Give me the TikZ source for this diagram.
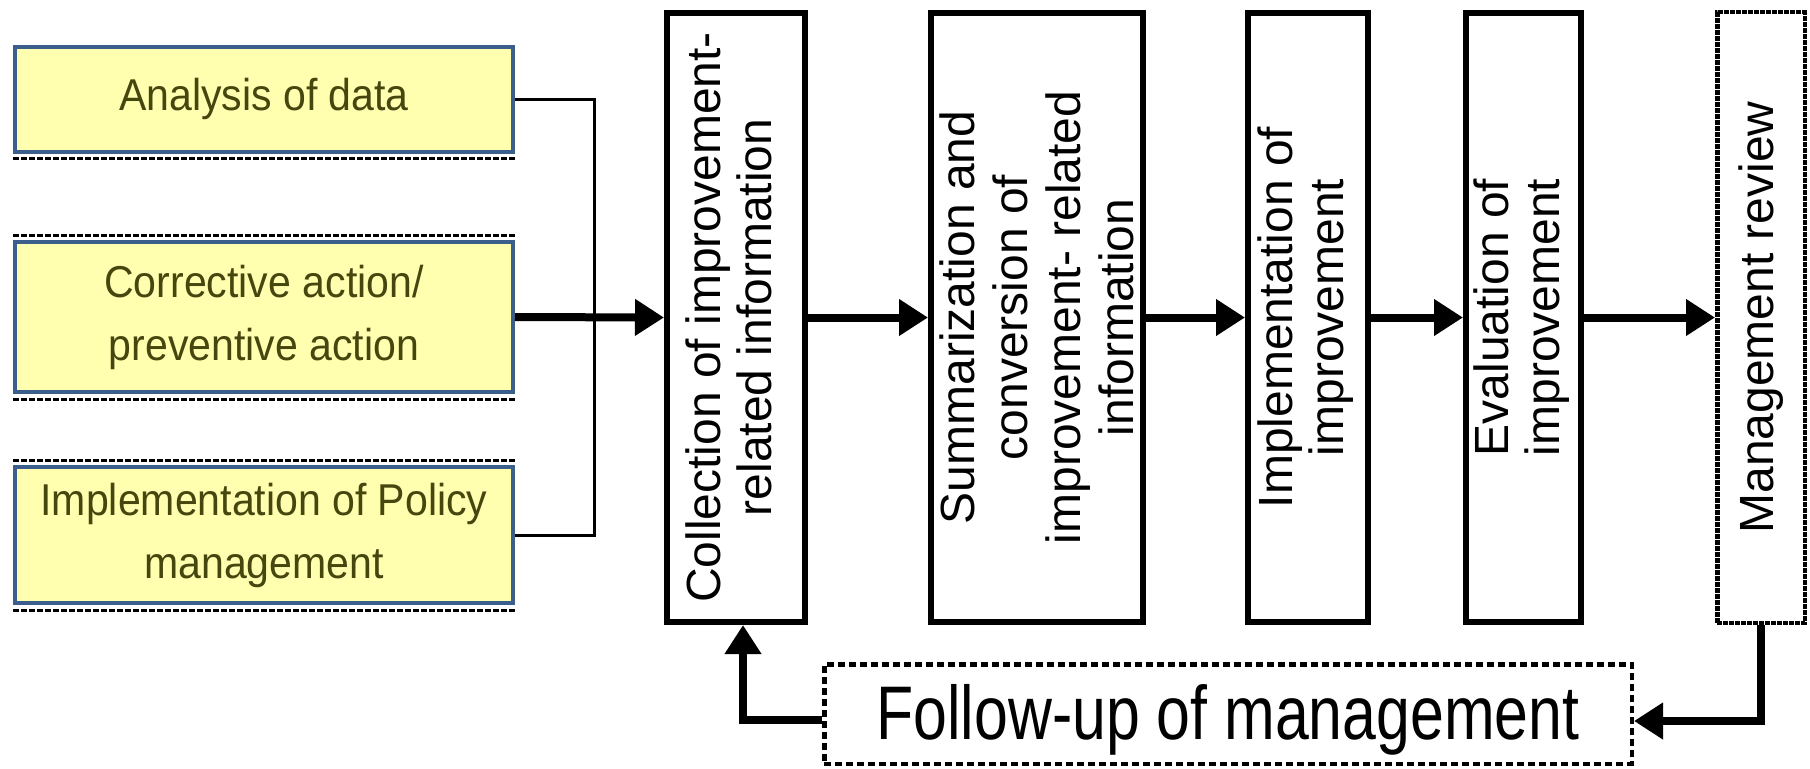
\documentclass[tikz,border=0pt]{standalone}
\usepackage{fontspec}
\setmainfont{Liberation Sans}
\newfontfamily\yfont[FakeStretch=0.92]{Liberation Sans}
\newfontfamily\ffont[FakeStretch=0.8]{Liberation Sans}
\usetikzlibrary{arrows.meta}
\definecolor{yfill}{RGB}{255,255,175}
\definecolor{yborder}{RGB}{59,94,140}
\definecolor{ytext}{RGB}{70,70,15}
\begin{document}
\begin{tikzpicture}[x=0.5pt,y=-0.5pt,
  ybox/.style={draw=yborder, fill=yfill, line width=2pt, minimum width=249pt,
    inner sep=0pt, align=center, text=ytext,
    font=\yfont\fontsize{22.3pt}{31.5pt}\selectfont},
  pbox/.style={draw=black, line width=3pt, minimum height=304.5pt, inner sep=0pt,
    font=\fontsize{24pt}{25.5pt}\selectfont},
  flow/.style={line width=4pt, -{Triangle[length=14.5pt,width=17.5pt]}},
  thinline/.style={line width=1.5pt},
  shadowl/.style={line width=1.5pt, dash pattern=on 3pt off 1pt},
  roughbox/.style={draw=black, line width=2.25pt, dash pattern=on 2.5pt off 0.5pt},
  fbox/.style={draw=black, line width=2.25pt, dash pattern=on 3.5pt off 2pt}
]
\useasboundingbox (0,0) rectangle (1810,768);
\fill[white] (0,0) rectangle (1810,768);

% yellow input boxes
\node[ybox, minimum height=52.5pt] (y1) at (264,99) {Analysis of data};
\node[ybox, minimum height=75pt] (y2) at (264,317) {Corrective action/\\preventive action};
\node[ybox, minimum height=68pt] (y3) at (264,535) {Implementation of Policy\\management};

\draw[shadowl] ([yshift=-2.5pt]y1.south west) -- ([yshift=-2.5pt]y1.south east);
\draw[shadowl] ([yshift=-2.5pt]y2.south west) -- ([yshift=-2.5pt]y2.south east);
\draw[shadowl] ([yshift=-2.5pt]y3.south west) -- ([yshift=-2.5pt]y3.south east);
\draw[shadowl] ([yshift=2.5pt]y2.north west) -- ([yshift=2.5pt]y2.north east);
\draw[shadowl] ([yshift=2.5pt]y3.north west) -- ([yshift=2.5pt]y3.north east);

% process boxes
\node[pbox, minimum width=69pt] (coll) at (736,317.5)
  {\rotatebox{90}{\begin{tabular}{@{}c@{}}Collection of improvement-\\related information\end{tabular}}};
\node[pbox, minimum width=106pt, font=\fontsize{24pt}{26.5pt}\selectfont] (summ) at (1037,317.5)
  {\rotatebox{90}{\raisebox{-3pt}[\height][\depth]{\begin{tabular}{@{}c@{}}Summarization and\\conversion of\\improvement- related\\information\end{tabular}}}};
\node[pbox, minimum width=60pt] (impl) at (1308,317.5)
  {\rotatebox{90}{\begin{tabular}{@{}c@{}}Implementation of\\improvement\end{tabular}}};
\node[pbox, minimum width=57.5pt] (eval) at (1523.5,317.5)
  {\rotatebox{90}{\begin{tabular}{@{}c@{}}Evaluation of\\improvement\end{tabular}}};
\node[pbox, roughbox, minimum width=43.75pt, minimum height=305.5pt] (mrev) at (1761,317.5)
  {\rotatebox{90}{Management review}};

\node[fbox, minimum width=403.75pt, minimum height=49.75pt, inner sep=0pt,
  font=\ffont\fontsize{38pt}{42pt}\selectfont] (follow) at (1228,714)
  {\raisebox{-3pt}[\height][\depth]{Follow-up of management}};

% connectors
\coordinate (j) at (594,317);
\draw[thinline] (y1.east) -| (j);
\draw[thinline] (y3.east) -| (j);
\draw[flow] (y2.east) -- (coll.west);
\draw[flow] (coll.east) -- (summ.west);
\draw[flow] (summ.east) -- (impl.west);
\draw[flow] (impl.east) -- (eval.west);
\draw[flow] (eval.east) -- (mrev.west);
\draw[flow] (mrev.south) |- ([yshift=-3.5pt]follow.east);
\draw[flow] ([yshift=-3pt]follow.west) -| ([xshift=3.5pt]coll.south);
\end{tikzpicture}
\end{document}
